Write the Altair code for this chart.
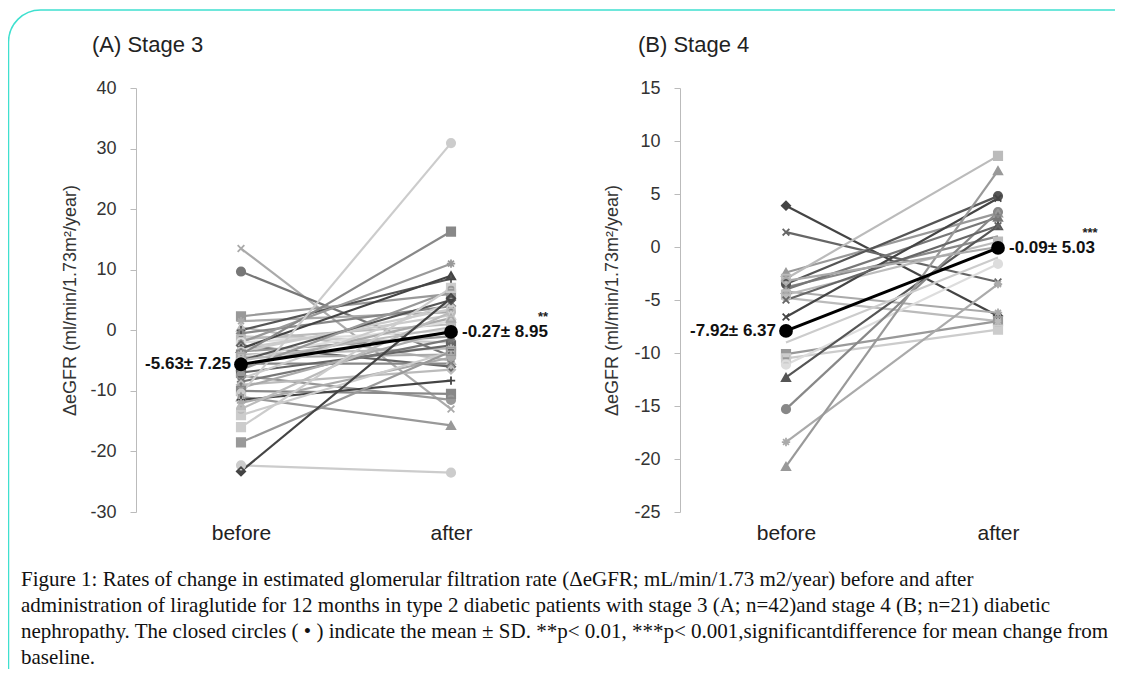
import altair as alt
import pandas as pd

# ---------------- data ----------------
times = ["before", "after"]

# Panel A: stage 3 (n=42), ΔeGFR before / after
a_before = [13.5, 9.7, 2.3, 1.5, 0.5, 0.0, -0.5, -1.0, -1.5, -2.0, -2.0, -2.5, -3.0, -3.0,
            -3.5, -3.5, -4.0, -4.0, -4.5, -4.5, -5.0, -5.0, -5.5, -6.0, -6.5, -7.0, -7.5, -8.0,
            -8.5, -9.0, -9.5, -10.0, -10.5, -11.0, -11.5, -12.0, -13.0, -14.0, -16.0, -18.5,
            -22.3, -23.3]
a_after = [-13.0, -4.3, 6.0, 3.0, -5.0, 8.5, 4.0, -2.0, 1.0, 11.0, 0.0, -6.0, 2.5, 9.0,
           -1.0, 3.5, 16.3, -3.0, 1.5, -4.0, 5.0, 0.5, -5.5, 2.0, 6.5, -2.5, -11.5, 4.5,
           -1.5, -6.5, 0.0, -10.5, 30.9, -15.7, -8.3, -4.5, 3.0, -3.5, 7.0, -3.5,
           -23.5, 5.3]
a_mean = [-5.63, -0.27]
a_sd = [7.25, 8.95]
a_sig = ["", "**"]
a_ticks = [-30, -20, -10, 0, 10, 20, 30, 40]

# Panel B: stage 4 (n=21)
b_before = [3.9, 1.4, -2.4, -3.0, -3.5, -3.8, -4.0, -4.2, -4.5, -4.8, -6.6, -10.1, -10.5,
            -11.1, -12.3, -15.3, -18.4, -20.7, -5.0, -3.2, -9.0]
b_after = [-6.5, -3.3, 3.2, 8.6, 4.8, 1.0, 2.8, -6.2, 0.5, -7.0, 4.6, -7.0, -7.8,
           -1.6, 2.0, 3.3, -3.5, 7.2, 2.0, 0.0, -1.0]
b_mean = [-7.92, -0.09]
b_sd = [6.37, 5.03]
b_sig = ["", "***"]
b_ticks = [-25, -20, -15, -10, -5, 0, 5, 10, 15]

caption_lines = [
    "Figure 1: Rates of change in estimated glomerular filtration rate (\u0394eGFR; mL/min/1.73 m2/year) before and after",
    "administration of liraglutide for 12 months in type 2 diabetic patients with stage 3 (A; n=42)and stage 4 (B; n=21) diabetic",
    "nephropathy. The closed circles ( \u2022 ) indicate the mean \u00b1 SD. **p< 0.01, ***p< 0.001,significantdifference for mean change from",
    "baseline.",
]

# ---------------- styles ----------------
X = "M-0.8,-0.8L0.8,0.8M-0.8,0.8L0.8,-0.8"
AST = "M-1,0L1,0M0,-1L0,1M-0.7,-0.7L0.7,0.7M-0.7,0.7L0.7,-0.7"
PLUS = "M-1,0L1,0M0,-1L0,1"
NONE = "M0,0"
CI, SQ, DI, TR = "circle", "square", "diamond", "triangle-up"

a_shapes = [X, CI, SQ, AST, TR, PLUS, DI, NONE, SQ, AST, CI, DI, TR, TR, X, CI, SQ, AST, NONE,
            SQ, DI, CI, X, TR, CI, SQ, CI, NONE, AST, DI, X, SQ, CI, TR, PLUS, AST, CI, SQ,
            SQ, SQ, CI, DI]
a_grays = ["#aaaaaa", "#777777", "#999999", "#aaaaaa", "#bbbbbb", "#555555", "#888888", "#cccccc",
           "#bbbbbb", "#999999", "#dddddd", "#666666", "#cccccc", "#444444", "#999999", "#cccccc",
           "#888888", "#bbbbbb", "#dddddd", "#aaaaaa", "#555555", "#bbbbbb", "#888888", "#aaaaaa",
           "#999999", "#666666", "#999999", "#cccccc", "#777777", "#bbbbbb", "#aaaaaa", "#888888",
           "#cccccc", "#999999", "#444444", "#aaaaaa", "#bbbbbb", "#cccccc", "#cccccc", "#999999",
           "#cccccc", "#444444"]
b_shapes = [DI, X, TR, SQ, CI, NONE, TR, AST, SQ, AST, X, SQ, SQ, CI, TR, CI, AST, TR, X, DI, NONE]
b_grays = ["#444444", "#666666", "#999999", "#bbbbbb", "#555555", "#888888", "#777777", "#aaaaaa",
           "#bbbbbb", "#bbbbbb", "#444444", "#999999", "#cccccc", "#dddddd", "#555555", "#888888",
           "#aaaaaa", "#999999", "#666666", "#aaaaaa", "#cccccc"]

FONT = "Liberation Sans"
SERIF = "Liberation Serif"
TEAL = "#3fe0cf"
W, H = 1107, 504


def long_df(prefix, before, after):
    rows = []
    for i, (b, a) in enumerate(zip(before, after)):
        pid = f"{prefix}{i:02d}"
        rows.append({"pid": pid, "time": "before", "value": b})
        rows.append({"pid": pid, "time": "after", "value": a})
    return pd.DataFrame(rows)


def mean_df(mean, sd, sig):
    return pd.DataFrame({
        "time": times,
        "value": mean,
        "label": [f"{m:.2f}\u00b1 {s:.2f}" for m, s in zip(mean, sd)],
        "sig": sig,
    })


def panel(df, mdf, shapes, grays, xrange, ydomain, ticks, axis_x, title_x):
    ids = sorted(df["pid"].unique())
    x = alt.X("time:N", scale=alt.Scale(type="point", domain=times, range=xrange, padding=0.5),
              axis=alt.Axis(orient="bottom", title=None, labelAngle=0, domain=False, ticks=False,
                            labelFontSize=21, labelFont=FONT, labelColor="#222222",
                            labelPadding=10, grid=False))
    y = alt.Y("value:Q", scale=alt.Scale(domain=ydomain, range=[H, 80], nice=False, zero=False),
              axis=alt.Axis(orient="left", offset=-axis_x, values=ticks, grid=False,
                            labelExpr="toString(datum.value)",
                            domainColor="#bbbbbb", tickColor="#bbbbbb", tickSize=6,
                            labelFontSize=18, labelFont=FONT, labelColor="#333333", labelPadding=14,
                            title="\u0394eGFR (ml/min/1.73m\u00b2/year)", titleFont=FONT,
                            titleFontSize=18, titleFontWeight="normal", titleColor="#333333",
                            titleX=title_x, titleBaseline="middle"))
    color = alt.Color("pid:N", scale=alt.Scale(domain=ids, range=grays), legend=None)
    shape = alt.Shape("pid:N", scale=alt.Scale(domain=ids, range=shapes), legend=None)
    base = alt.Chart(df)
    lines = base.mark_line(strokeWidth=2.2).encode(x=x, y=y, detail="pid:N", color=color)
    pts_f = base.mark_point(filled=True, size=70, opacity=1).encode(x=x, y=y, color=color, shape=shape)
    pts_s = base.mark_point(filled=False, size=70, opacity=1, strokeWidth=1.8).encode(
        x=x, y=y, color=color, shape=shape)
    mb = alt.Chart(mdf)
    mline = mb.mark_line(color="black", strokeWidth=3).encode(x=x, y=y)
    mpts = mb.mark_circle(color="black", size=190, opacity=1).encode(x=x, y=y)
    lab_b = mb.transform_filter(alt.datum.time == "before").mark_text(
        align="right", baseline="middle", dx=-10, font=FONT, fontSize=17, fontWeight="bold",
        color="#111111").encode(x=x, y=y, text="label:N")
    lab_a = mb.transform_filter(alt.datum.time == "after").mark_text(
        align="left", baseline="middle", dx=11, font=FONT, fontSize=17, fontWeight="bold",
        color="#111111").encode(x=x, y=y, text="label:N")
    stars = mb.transform_filter(alt.datum.time == "after").mark_text(
        align="center", baseline="middle", dx=92, dy=-15, font=FONT, fontSize=13, fontWeight="bold",
        color="#222222").encode(x=x, y=y, text="sig:N")
    return alt.layer(lines, pts_f, pts_s, mline, mpts, lab_b, lab_a, stars)


dfA = long_df("A", a_before, a_after)
dfB = long_df("B", b_before, b_after)
panelA = panel(dfA, mean_df(a_mean, a_sd, a_sig), a_shapes, a_grays, [128, 548], [-30, 40],
               a_ticks, 128, -66)
panelB = panel(dfB, mean_df(b_mean, b_sd, b_sig), b_shapes, b_grays, [672, 1096], [-25, 15],
               b_ticks, 672, -68)

one = pd.DataFrame({"k": [0]})
border = alt.Chart(one).mark_rect(filled=False, stroke=TEAL, strokeWidth=1.5, cornerRadius=32).encode(
    x=alt.value(0.5), x2=alt.value(1150), y=alt.value(2), y2=alt.value(700))

titles = pd.DataFrame({"t": ["(A) Stage 3", "(B) Stage 4"]})
titleA = alt.Chart(titles.iloc[[0]]).mark_text(align="left", baseline="middle", font=FONT,
                                                fontSize=22, color="#222222").encode(
    x=alt.value(84), y=alt.value(37), text="t:N")
titleB = alt.Chart(titles.iloc[[1]]).mark_text(align="left", baseline="middle", font=FONT,
                                                fontSize=22, color="#222222").encode(
    x=alt.value(630), y=alt.value(37), text="t:N")

cap_layers = []
for i, line in enumerate(caption_lines):
    cap_layers.append(
        alt.Chart(pd.DataFrame({"c": [line]})).mark_text(
            align="left", baseline="alphabetic", font=SERIF, fontSize=21, color="#111111").encode(
            x=alt.value(13), y=alt.value(578 + 26 * i), text="c:N"))

chart = alt.layer(border, panelA, panelB, titleA, titleB, *cap_layers).resolve_scale(
    x="independent", y="independent", color="independent", shape="independent"
).properties(
    width=W, height=H,
    autosize=alt.AutoSizeParams(type="none"),
    padding={"left": 0, "top": 0, "right": 0, "bottom": 157},
).configure_view(stroke=None)

chart.save("out.html", embed_options={"renderer": "svg", "actions": False})
